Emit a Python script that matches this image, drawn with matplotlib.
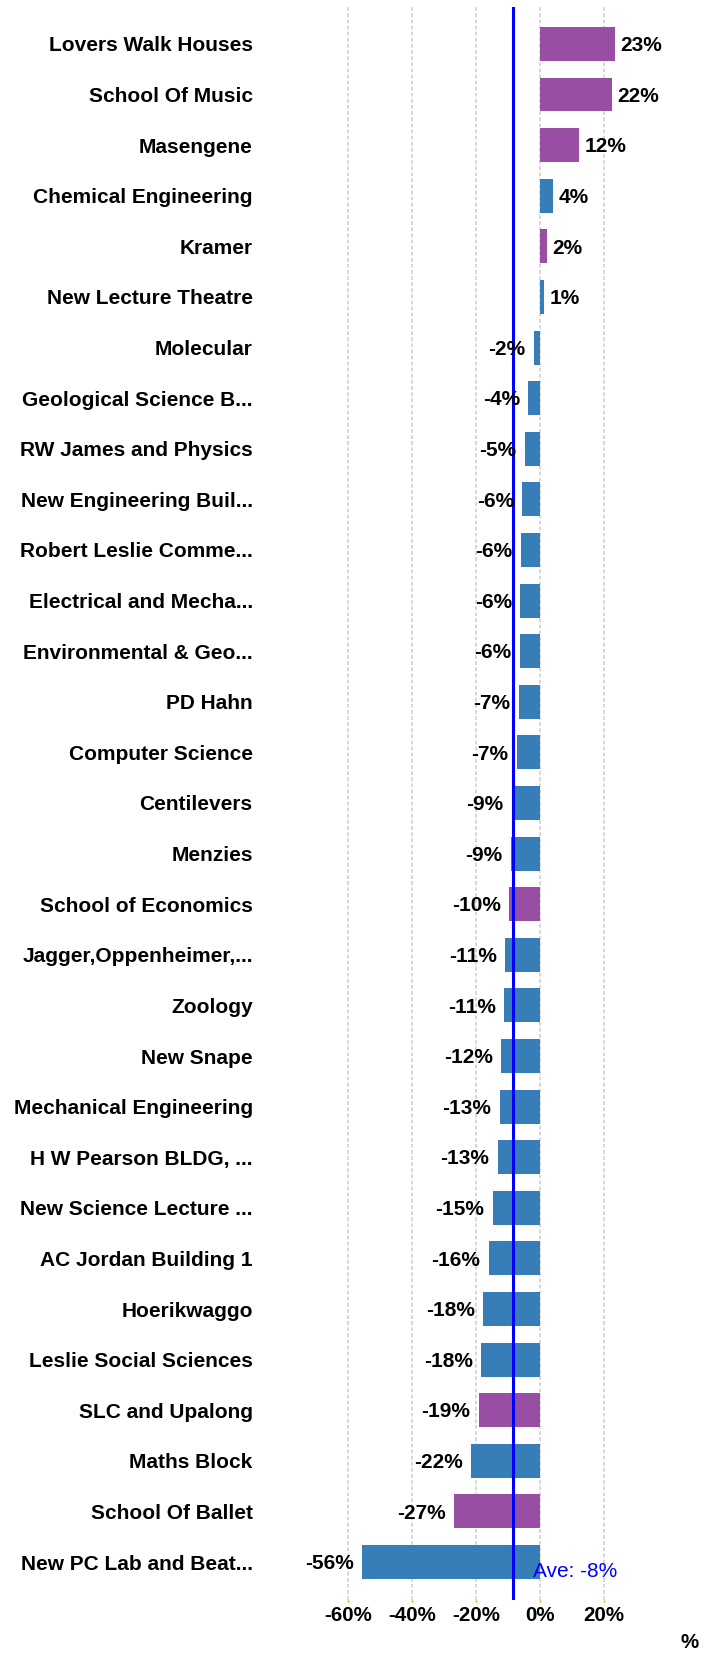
import matplotlib
matplotlib.use("Agg")
import matplotlib.pyplot as plt

categories = [
    "Lovers Walk Houses", "School Of Music", "Masengene", "Chemical Engineering",
    "Kramer", "New Lecture Theatre", "Molecular", "Geological Science B...",
    "RW James and Physics", "New Engineering Buil...", "Robert Leslie Comme...",
    "Electrical and Mecha...", "Environmental & Geo...", "PD Hahn",
    "Computer Science", "Centilevers", "Menzies", "School of Economics",
    "Jagger,Oppenheimer,...", "Zoology", "New Snape", "Mechanical Engineering",
    "H W Pearson BLDG, ...", "New Science Lecture ...", "AC Jordan Building 1",
    "Hoerikwaggo", "Leslie Social Sciences", "SLC and Upalong", "Maths Block",
    "School Of Ballet", "New PC Lab and Beat...",
]
values = [
    23.4, 22.4, 12.2, 4.1, 2.2, 1.3, -2.0, -3.6, -4.8, -5.5, -6.0, -6.2,
    -6.4, -6.6, -7.3, -8.9, -9.2, -9.6, -10.8, -11.3, -12.1, -12.6, -13.2,
    -14.8, -16.0, -17.8, -18.3, -19.2, -21.6, -26.9, -55.6,
]
groups = [
    "p", "p", "p", "b", "p", "b", "b", "b", "b", "b", "b", "b", "b", "b",
    "b", "b", "b", "p", "b", "b", "b", "b", "b", "b", "b", "b", "b", "p",
    "b", "p", "b",
]
average = -8.5
average_label = "Ave: -8%"
xticks = [-60, -40, -20, 0, 20]
xtick_labels = ["-60%", "-40%", "-20%", "0%", "20%"]

colors = {"p": "#984EA3", "b": "#377EB8"}
FONT = ["Liberation Sans", "DejaVu Sans"]
plt.rcParams["font.family"] = FONT

W, H = 714, 1654
fig = plt.figure(figsize=(W / 100, H / 100), dpi=100)
ax = fig.add_axes([268 / W, 54 / H, 432 / W, (1600 - 7) / H])

ypos = list(range(len(categories)))
ax.barh(ypos, values, height=0.67, color=[colors[g] for g in groups], zorder=2)

for y, v in zip(ypos, values):
    if v >= 0:
        ax.annotate(f"{round(v):d}%", (v, y), xytext=(4, -1.2), textcoords="offset points",
                    ha="left", va="center", fontsize=15, fontweight="bold", zorder=4)
    else:
        ax.annotate(f"{round(v):d}%", (v, y), xytext=(-6, -1.2), textcoords="offset points",
                    ha="right", va="center", fontsize=15, fontweight="bold", zorder=4)

ax.axvline(average, color="#0000FF", linewidth=2.2, zorder=3)
ax.annotate(average_label, (average, len(categories) - 1), xytext=(14.5, -7),
            textcoords="offset points", ha="left", va="center", fontsize=15,
            color="#0000FF", zorder=5)

ax.set_xlim(-85, 50)
ax.set_ylim(len(categories) - 1 + 0.75, -0.73)
ax.set_yticks(ypos)
ax.set_yticklabels(categories, fontsize=15, fontweight="bold")
ax.set_xticks(xticks)
ax.set_xticklabels(xtick_labels, fontsize=14.8, fontweight="bold")
ax.tick_params(axis="y", length=0, pad=11)
ax.tick_params(axis="x", length=1.5, color="#FF8C1A", width=1, pad=3)
ax.grid(axis="x", color="#CCCCCC", linestyle=(0, (2.5, 1.5)), linewidth=1.1, zorder=0)
for s in ax.spines.values():
    s.set_visible(False)

fig.text(690 / W, 1 - 1643 / H, "%", ha="center", va="center", fontsize=14.8,
         fontweight="bold")

fig.savefig("out.png", dpi=100)
